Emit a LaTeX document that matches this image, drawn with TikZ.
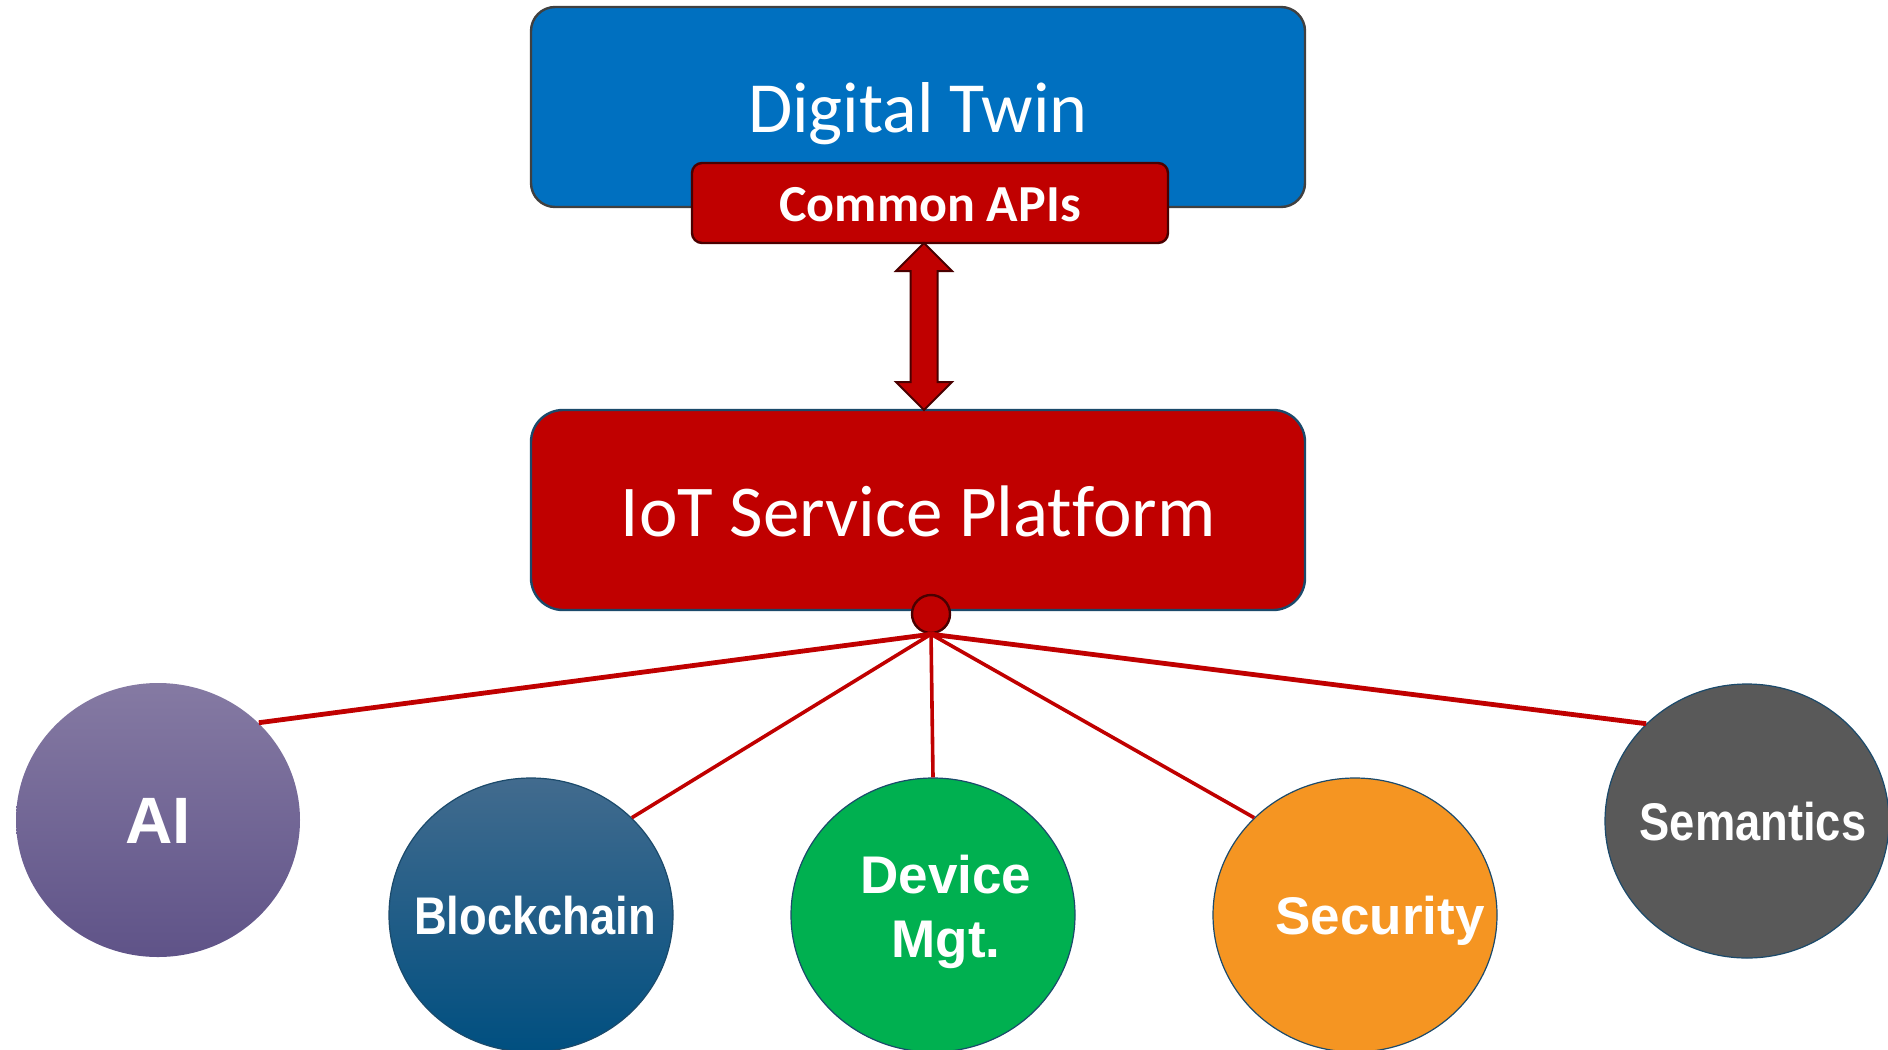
\documentclass[tikz,border=0pt]{standalone}
\usepackage{fontspec}
\usepackage{tikz}
\usetikzlibrary{positioning,
				shapes.arrows,
				shapes.geometric,
				calc}
\newfontfamily\calibri{Carlito}[Ligatures=NoCommon]
\newfontfamily\arialf{Liberation Sans}
\newfontfamily\arialnarrow{Liberation Sans}[FakeStretch=0.855]
\definecolor{twinblue}{HTML}{0070C0}
\definecolor{iotred}{HTML}{C00000}
\definecolor{darkred}{HTML}{4A0000}
\definecolor{navyline}{HTML}{1B4A6B}
\definecolor{boxgray}{HTML}{404040}
\definecolor{aitop}{HTML}{857AA3}
\definecolor{aibot}{HTML}{5F5388}
\definecolor{chaintop}{HTML}{426B8E}
\definecolor{chainbot}{HTML}{004F80}
\definecolor{devgreen}{HTML}{00B050}
\definecolor{secorange}{HTML}{F59522}
\definecolor{semgray}{HTML}{595959}
\begin{document}
\begin{tikzpicture}[x=0.5pt,y=-0.5pt,
  panel/.style={rectangle,inner sep=0pt,line width=1.2pt,text=white},
  bubble/.style={ellipse,inner sep=0pt,minimum width=142pt,minimum height=137pt,draw=navyline,line width=0.6pt},
  bubbletext/.style={text=white,inner sep=0pt,text height=19pt,text depth=0pt},
  spoke/.style={iotred,line width=1.8pt}]
  \useasboundingbox (0,0) rectangle (1888,1049);
  \node[panel,draw=boxgray,fill=twinblue,rounded corners=12pt,minimum width=387pt,minimum height=100pt,
        text height=25pt,text depth=0pt,font=\calibri\fontsize{36}{40}\selectfont] (twin) at (918,107) {Digital Twin};
  \node[panel,draw=darkred,fill=iotred,rounded corners=5pt,minimum width=238pt,minimum height=40pt,
        text height=18pt,text depth=0pt,font=\calibri\bfseries\fontsize{26}{30}\selectfont] (apis) at (930,203) {Common APIs};
  \node[panel,draw=navyline,fill=iotred,rounded corners=16pt,minimum width=387pt,minimum height=100pt,
        text height=26pt,text depth=0pt,font=\calibri\fontsize{36.5}{40}\selectfont] (iot) at (918,510) {IoT Service Platform};
  \node[double arrow,rotate=90,draw=darkred,fill=iotred,line width=1pt,inner sep=6.25pt,minimum width=27pt,
        minimum height=83.5pt,double arrow head extend=7.25pt] (link) at ($(apis.south)!0.5!(iot.north)$) {};
  % service bubbles
  \node[bubble,draw=none,top color=aitop,bottom color=aibot] (ai) at (158,820) {};
  \node[bubble,top color=chaintop,bottom color=chainbot] (chain) at (531,915) {};
  \node[bubble,fill=devgreen] (dev) at (933,915) {};
  \node[bubble,fill=secorange] (sec) at (1355,915) {};
  \node[bubble,fill=semgray] (sem) at (1747,821) {};
  \node[bubbletext,text height=23.5pt,font=\arialf\bfseries\fontsize{32.8}{36}\selectfont] (ailbl) at (ai.center) {AI};
  \node[bubbletext,font=\arialnarrow\bfseries\fontsize{26.5}{32}\selectfont] (chainlbl) at ([xshift=2pt]chain.center) {Blockchain};
  \node[bubbletext,align=center,text depth=32pt,font=\arialf\bfseries\fontsize{26.5}{32}\selectfont] (devlbl) at ([xshift=6.5pt,yshift=-27.5pt]dev.center) {Device\\Mgt.};
  \node[bubbletext,font=\arialf\bfseries\fontsize{26.5}{32}\selectfont] (seclbl) at ([xshift=12.5pt]sec.center) {Security};
  \node[bubbletext,font=\arialnarrow\bfseries\fontsize{26.5}{32}\selectfont] (semlbl) at ([xshift=3pt]sem.center) {Semantics};
  \node[circle,draw=darkred,fill=iotred,line width=1.2pt,minimum size=19pt,inner sep=0pt] (hub) at (931,614) {};
  \draw[spoke,line width=2.4pt] (hub.south) -- (ai.north east);
  \draw[spoke] (hub.south) -- (chain.north east);
  \draw[spoke] (hub.south) -- (dev.north);
  \draw[spoke] (hub.south) -- (sec.north west);
  \draw[spoke,line width=2.4pt] (hub.south) -- (sem.north west);
\end{tikzpicture}
\end{document}
